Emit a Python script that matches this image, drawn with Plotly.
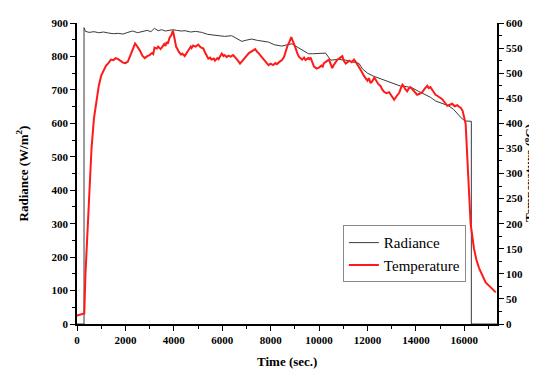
import plotly.graph_objects as go

# ---- data ----
time_rad = [0, 290, 290, 350, 500, 700, 900, 1100, 1300, 1500, 1700, 1900, 2100, 2300, 2500,
            2700, 2900, 3050, 3200, 3350, 3500, 3650, 3800, 3950, 4115, 4300, 4460, 4700,
            4900, 5150, 5400, 5600, 5840, 6100, 6390, 6600, 6810, 7015, 7220, 7450, 7700,
            7910, 8150, 8460, 8700, 8880, 9100, 9350, 9565, 9720, 10000, 10270, 10480,
            10800, 11100, 11400, 11650, 11800, 12000, 12250, 12480, 12750, 13030, 13375,
            13600, 13845, 14100, 14400, 14600, 14810, 15100, 15360, 15550, 15710, 15915,
            16055, 16290, 16290, 17400]
radiance = [0, 0, 886, 875, 872, 874, 871, 873, 870, 868, 869, 867, 872, 876, 871,
            874, 878, 874, 884, 877, 880, 876, 878, 880, 878, 876, 877, 873,
            875, 872, 866, 864, 862, 860, 862, 853, 845, 849, 852, 848, 845,
            843, 835, 831, 835, 838, 828, 818, 808, 808, 809, 810, 789,
            791, 789, 784, 779, 762, 750, 741, 735, 727, 720, 711,
            710, 706, 696, 686, 678, 667, 660, 652, 642, 628, 613,
            607, 606, 0, 0]

time_temp = [0, 250, 300, 350, 400, 500, 600, 700, 800, 900, 1000, 1100,
             1200, 1300, 1400, 1500, 1600, 1700, 1800, 1900, 2000, 2100, 2200, 2300, 2400,
             2450, 2500, 2600, 2700, 2800, 2900, 3000, 3100, 3150, 3200, 3300, 3350, 3450,
             3500, 3600, 3650, 3700, 3750, 3830, 3900, 3960, 4000, 4050, 4100, 4150, 4200,
             4300, 4350, 4450, 4550, 4600, 4700, 4735, 4800, 4900, 5010, 5100, 5220, 5300,
             5425, 5500, 5550, 5650, 5700, 5800, 5850, 5980, 6050, 6100, 6185, 6250, 6350,
             6450, 6530, 6600, 6650, 6735, 6800, 6850, 6950, 7015, 7100, 7200, 7300, 7360,
             7450, 7500, 7600, 7700, 7800, 7850, 7910, 8000, 8100, 8200, 8255, 8350, 8465,
             8550, 8600, 8700, 8780, 8850, 8900, 8950, 9015, 9100, 9165, 9250, 9300, 9380,
             9440, 9550, 9600, 9650, 9720, 9790, 9900, 9995, 10100, 10150, 10200, 10300,
             10410, 10480, 10545, 10600, 10650, 10755, 10850, 10960, 11030, 11100, 11200,
             11250, 11350, 11445, 11550, 11650, 11750, 11860, 11950, 12000, 12060, 12130,
             12200, 12280, 12340, 12400, 12450, 12545, 12600, 12685, 12780, 12895, 13000,
             13050, 13100, 13200, 13250, 13310, 13380, 13445, 13500, 13560, 13640, 13700,
             13775, 13850, 13900, 13980, 14050, 14150, 14260, 14350, 14420, 14470, 14530,
             14600, 14700, 14810, 14880, 14950, 15020, 15090, 15200, 15295, 15400, 15500,
             15600, 15710, 15780, 15850, 15930, 15990, 16055, 16125, 16190, 16260, 16400,
             16500, 16605, 16750, 16880, 17090, 17300]
temperature = [17, 20, 21, 100, 150, 260, 350, 410, 445, 475, 495, 506,
               515, 520, 527, 526, 530, 528, 524, 521, 520, 523, 535, 548, 559,
               556, 553, 545, 535, 530, 534, 536, 540, 538, 551, 549, 553, 548,
               551, 558, 554, 562, 559, 571, 576, 585, 576, 565, 552, 548, 543,
               537, 539, 534, 541, 545, 553, 550, 555, 553, 557, 552, 549, 540,
               529, 531, 527, 529, 525, 530, 528, 539, 534, 536, 532, 535, 533,
               536, 532, 529, 525, 519, 523, 527, 531, 535, 540, 543, 546, 548,
               542, 540, 534, 528, 522, 518, 516, 519, 516, 520, 518, 522, 526,
               532, 540, 555, 563, 572, 566, 558, 552, 540, 533, 529, 527, 531,
               526, 530, 528, 531, 520, 513, 509, 511, 515, 513, 520, 523,
               527, 518, 510, 516, 520, 527, 530, 534, 524, 519, 523,
               525, 522, 527, 520, 513, 504, 494, 489, 485, 490, 480,
               484, 491, 487, 481, 478, 474, 468, 463, 460, 462, 455,
               451, 447, 454, 458, 461, 470, 477, 474, 468, 464, 469,
               472, 468, 465, 461, 457, 459, 462, 468, 471, 475, 470,
               472, 465, 457, 455, 453, 450, 448, 441, 435, 437, 439,
               434, 436, 433, 431, 425, 412, 399, 330, 262, 200, 150,
               128, 112, 95, 83, 73, 63]

x_ticks = [0, 2000, 4000, 6000, 8000, 10000, 12000, 14000, 16000]
rad_ticks = [0, 100, 200, 300, 400, 500, 600, 700, 800, 900]
temp_ticks = [0, 50, 100, 150, 200, 250, 300, 350, 400, 450, 500, 550, 600]

SERIF = "Liberation Serif, Times New Roman, serif"
tickfont = dict(family=SERIF, size=11, color="black", weight="bold")

fig = go.Figure()
fig.add_trace(go.Scatter(x=time_rad, y=radiance, mode="lines", name="Radiance",
                         line=dict(color="#3a3a3a", width=1), yaxis="y"))
fig.add_trace(go.Scatter(x=time_temp, y=temperature, mode="lines", name="Temperature",
                         line=dict(color="#ff1a1a", width=2), yaxis="y2"))

axis_common = dict(showline=True, linecolor="black", linewidth=1.5, ticks="outside",
                   ticklen=5, tickwidth=1.3, tickcolor="black", showgrid=False,
                   zeroline=False, tickfont=tickfont)

fig.update_layout(
    width=529, height=362,
    margin=dict(l=69, r=40, t=9, b=46),
    paper_bgcolor="white", plot_bgcolor="white",
    showlegend=True,
    xaxis=dict(range=[0, 17350], tickvals=x_ticks, ticktext=[str(v) for v in x_ticks],
               minor=dict(dtick=1000, ticks="outside", ticklen=3, tickcolor="black"),
               **axis_common),
    yaxis=dict(range=[0, 900], tickvals=rad_ticks, ticktext=[str(v) for v in rad_ticks],
               minor=dict(dtick=50, ticks="outside", ticklen=3, tickcolor="black"),
               **axis_common),
    yaxis2=dict(range=[0, 600], overlaying="y", side="right", tickvals=temp_ticks,
                ticktext=[str(v) for v in temp_ticks],
                minor=dict(dtick=25, ticks="outside", ticklen=3, tickcolor="black"),
                **axis_common),
    legend=dict(x=0.633, y=0.233, xanchor="left", yanchor="middle",
                bgcolor="white", bordercolor="#8a8a8a", borderwidth=1,
                font=dict(family=SERIF, size=15, color="black"),
                tracegroupgap=0, itemwidth=30),
    annotations=[
        dict(text="Time (sec.)", xref="paper", yref="paper", x=0.5, y=-0.123,
             xanchor="center", yanchor="middle", showarrow=False,
             font=dict(family=SERIF, size=13, color="black", weight="bold")),
        dict(text="Radiance (W/m<sup>2</sup>)", xref="paper", yref="paper",
             x=-0.131, y=0.5, xanchor="center", yanchor="middle", textangle=-90,
             showarrow=False,
             font=dict(family=SERIF, size=13, color="black", weight="bold")),
        dict(text="Temperature (<sup>o</sup>C)", xref="paper", yref="paper",
             x=1.075, y=0.5, xanchor="center", yanchor="middle", textangle=-90,
             showarrow=False,
             font=dict(family=SERIF, size=13, color="black", weight="bold")),
    ],
)

fig.write_html("out.html")
